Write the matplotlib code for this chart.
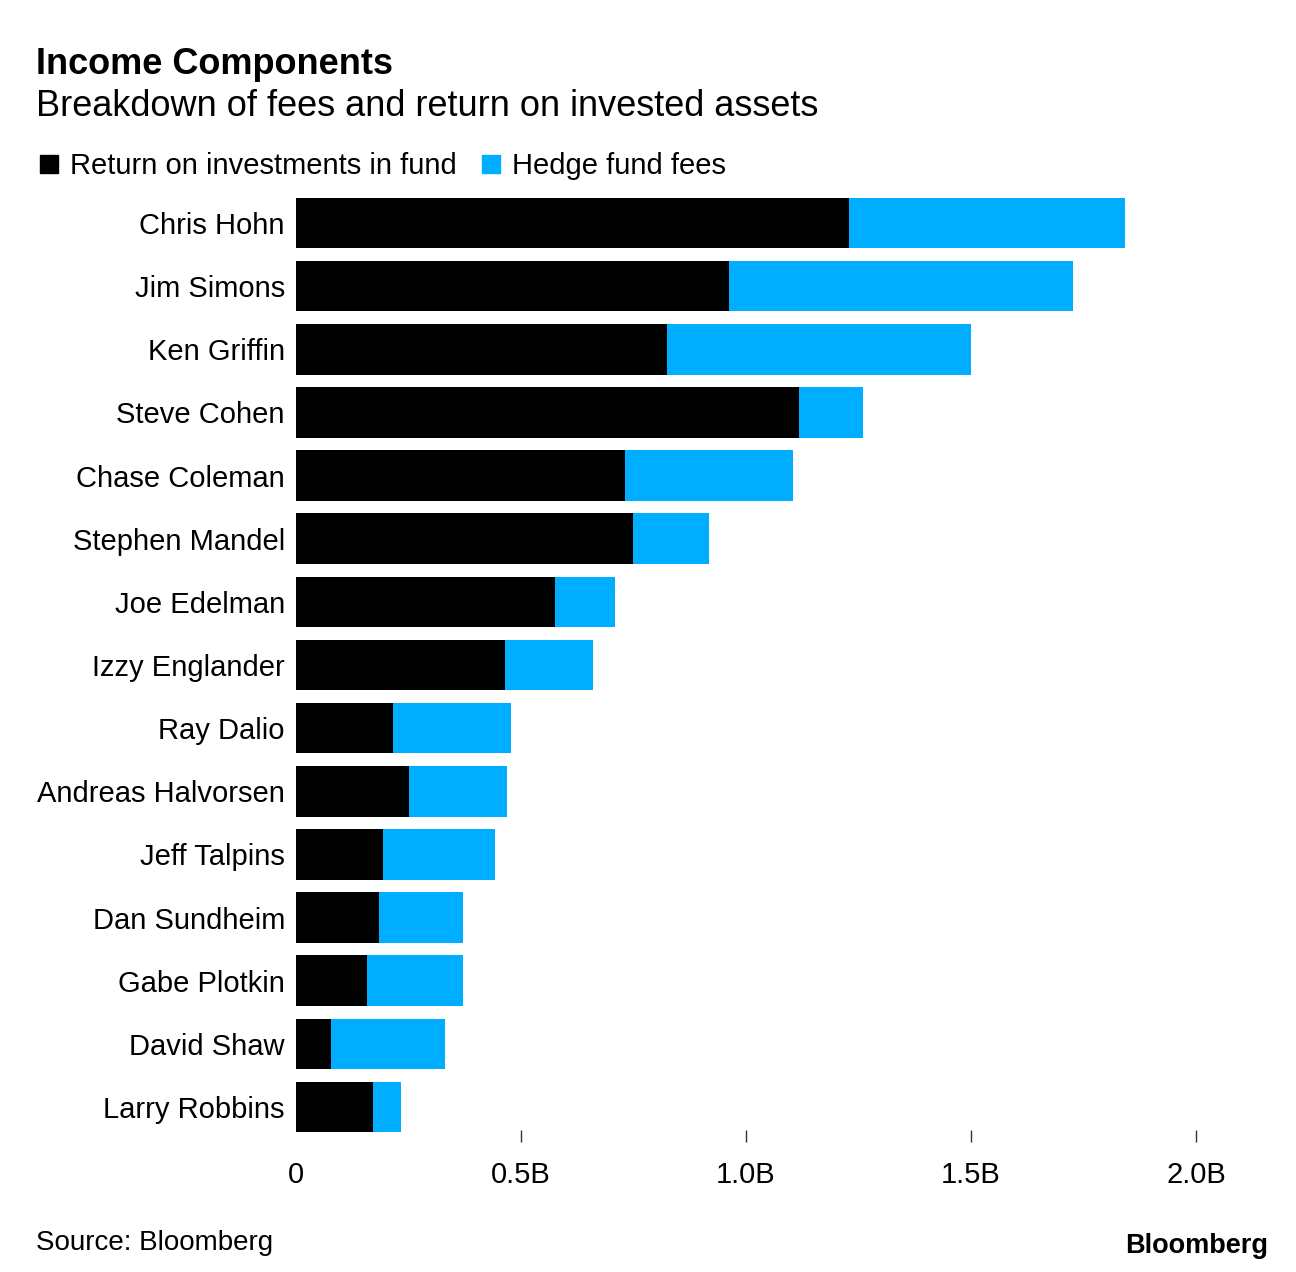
import matplotlib
matplotlib.use("Agg")
import matplotlib.pyplot as plt
from matplotlib.patches import Rectangle

names = ["Chris Hohn", "Jim Simons", "Ken Griffin", "Steve Cohen", "Chase Coleman",
         "Stephen Mandel", "Joe Edelman", "Izzy Englander", "Ray Dalio",
         "Andreas Halvorsen", "Jeff Talpins", "Dan Sundheim", "Gabe Plotkin",
         "David Shaw", "Larry Robbins"]
returns = [1.229, 0.962, 0.824, 1.118, 0.731, 0.749, 0.576, 0.464, 0.216,
           0.251, 0.193, 0.184, 0.158, 0.078, 0.171]
fees = [0.613, 0.765, 0.676, 0.142, 0.373, 0.169, 0.133, 0.196, 0.262,
        0.218, 0.249, 0.187, 0.213, 0.253, 0.062]
tick_vals = [0, 0.5, 1.0, 1.5, 2.0]
tick_labels = ["0", "0.5B", "1.0B", "1.5B", "2.0B"]

BLACK = "#000000"
BLUE = "#00aeff"
FONT = "Liberation Sans"

W, H = 1296, 1272
fig = plt.figure(figsize=(W / 100, H / 100), dpi=100)

left, right = 296, 1196
top, bottom = 191.4, 1142
ax = fig.add_axes([left / W, 1 - bottom / H, (right - left) / W, (bottom - top) / H])

y = list(range(len(names)))
ax.barh(y, returns, height=0.8, color=BLACK, edgecolor="none")
ax.barh(y, fees, left=returns, height=0.8, color=BLUE, edgecolor="none")

ax.set_xlim(0, 2.0)
ax.set_ylim(14.554, -0.5)
for s in ax.spines.values():
    s.set_visible(False)

ax.set_yticks(y)
ax.set_yticklabels(names, fontsize=21, family=FONT)
ax.tick_params(axis="y", length=0, pad=8)

ax.set_xticks(tick_vals)
ax.set_xticklabels(tick_labels, fontsize=21, family=FONT)
ax.tick_params(axis="x", direction="in", length=8.6, width=1, color="#333333", pad=14)
ax.xaxis.get_majorticklines()[0].set_visible(False)

fig.text(36 / W, 1 - 64 / H, "Income Components", fontsize=26, fontweight="bold",
         family=FONT, va="center", ha="left")
fig.text(36 / W, 1 - 107 / H, "Breakdown of fees and return on invested assets",
         fontsize=26, family=FONT, va="center", ha="left")

# legend
for x0, color, label in [(40, BLACK, "Return on investments in fund"),
                         (482, BLUE, "Hedge fund fees")]:
    fig.patches.append(Rectangle((x0 / W, 1 - 173 / H), 18 / W, 18 / H,
                                 transform=fig.transFigure, color=color))
    fig.text((x0 + 30) / W, 1 - 165.5 / H, label, fontsize=21, family=FONT,
             va="center", ha="left")

fig.text(36 / W, 1 - 1243 / H, "Source: Bloomberg", fontsize=20, family=FONT,
         va="center", ha="left")
fig.text(1268 / W, 1 - 1246 / H, "Bloomberg", fontsize=19.5, fontweight="bold",
         family=FONT, va="center", ha="right")

fig.savefig("out.png", dpi=100)
